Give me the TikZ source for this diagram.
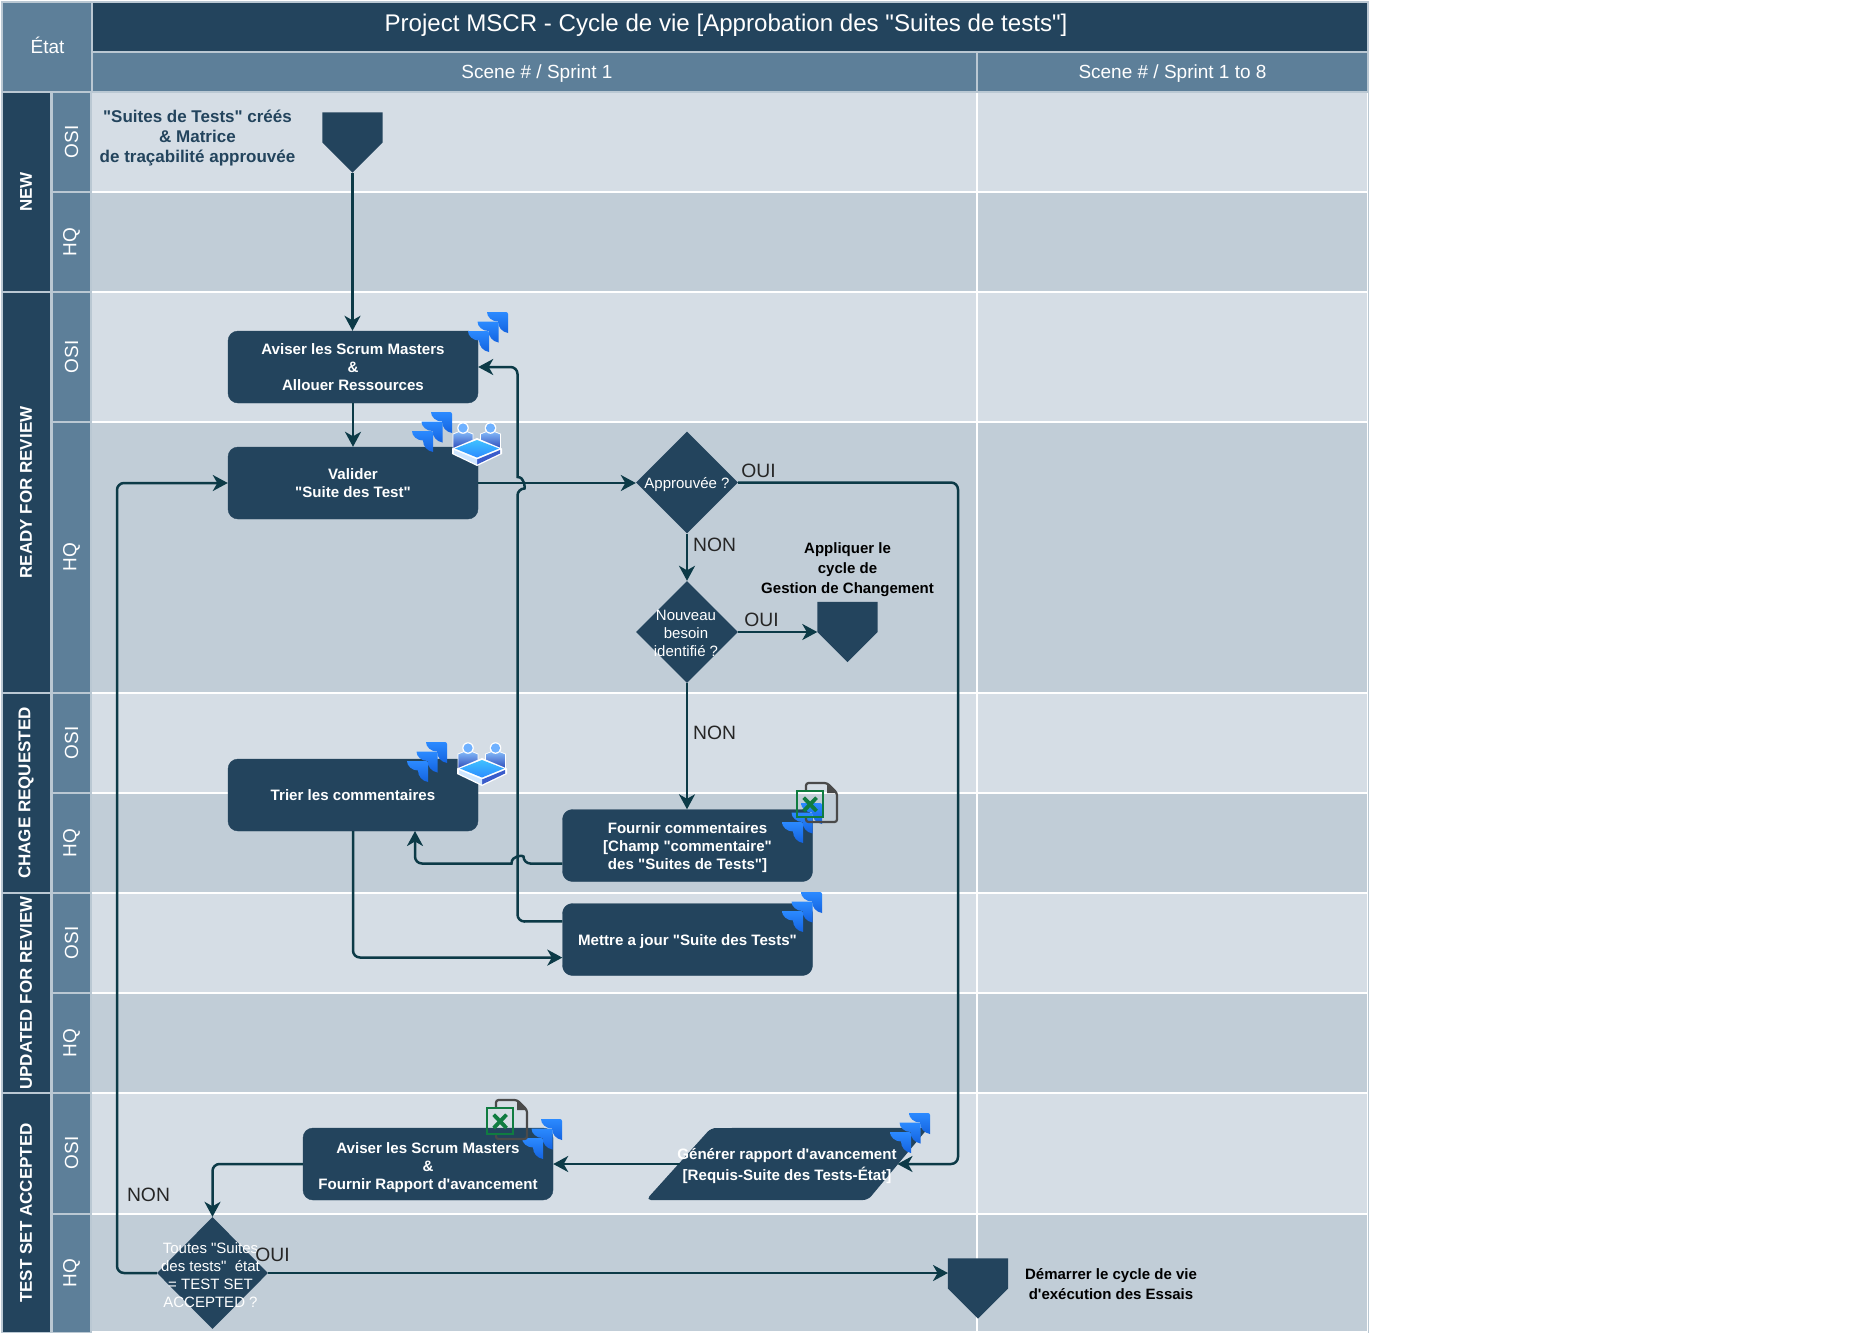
\documentclass[tikz,border=0pt]{standalone}
\usepackage{fontspec}
\setmainfont{Liberation Sans}[Ligatures=TeXOff]
\usetikzlibrary{shapes.geometric,arrows.meta,calc}
\definecolor{navy}{HTML}{23445D}
\definecolor{midblue}{HTML}{5D7F99}
\definecolor{edgeblue}{HTML}{BAC8D3}
\definecolor{rowA}{HTML}{D5DDE5}
\definecolor{rowB}{HTML}{C1CDD7}
\definecolor{wire}{HTML}{0C3A47}
\definecolor{jiraA}{HTML}{2B8AFF}
\definecolor{jiraB}{HTML}{1463E0}
\definecolor{xlgreen}{HTML}{107C41}
\definecolor{docgrey}{HTML}{4A4A4A}
\definecolor{cubeA}{HTML}{8CC4FF}
\definecolor{cubeB}{HTML}{2A48B8}
\definecolor{headblue}{HTML}{6FB1FF}
\definecolor{plateA}{HTML}{3FC0FF}
\definecolor{plateB}{HTML}{2C8CFF}
\definecolor{plateSide}{HTML}{3A5CCB}
\definecolor{plateLight}{HTML}{CFE6FF}
\newcommand{\fs}[1]{\fontsize{#1}{#1}\selectfont}
\tikzset{
  x=1pt,y=-1pt,
  rowcell/.style={draw=white,line width=2.4pt},
  hdrcell/.style={draw=edgeblue,line width=1.6pt},
  rolecell/.style={draw=edgeblue,line width=1.2pt,fill=midblue},
  hdrtext/.style={text=white,align=center,font=\fs{19}},
  statetext/.style={text=white,rotate=90,font=\bfseries\fs{17},align=center},
  roletext/.style={text=white,rotate=90,font=\fs{19}},
  procbox/.style={fill=navy,draw=navy,rounded corners=10pt,minimum width=250pt,minimum height=72pt,inner sep=0pt,
    text=white,align=center,font=\bfseries\fs{15.1}\setlength{\baselineskip}{18pt}},
  boxtext/.style={text=white,align=center,inner sep=0pt,font=\bfseries\fs{15.1}\setlength{\baselineskip}{18pt}},
  decide/.style={diamond,aspect=1,fill=navy,inner sep=0pt,minimum width=102pt,minimum height=102pt},
  decidetext/.style={text=white,align=center,font=\fs{15}\setlength{\baselineskip}{18pt}},
  ghost/.style={inner sep=0pt,minimum width=60pt,minimum height=60pt},
  wireline/.style={draw=wire,line width=2.5pt,rounded corners=7pt,-{Stealth[length=15pt,width=16pt,inset=4.5pt]}},
  flowlabel/.style={text=black!85,font=\fs{19.3}},
  notetext/.style={text=black,align=center,font=\bfseries\fs{15}\setlength{\baselineskip}{20pt}},
  pics/jira/.style={code={
    \foreach \dx/\dy in {0/0,-9.5/9.5,-19/19}{
      \shade[top color=jiraA,bottom color=jiraB,shift={(\dx,\dy)}]
        (0,0) -- (19,0) .. controls (20,0) and (21,1) .. (21,2) -- (21,21)
        .. controls (15,20) and (11,15) .. (11,9.5) .. controls (5,9.5) and (0,5) .. (0,0) -- cycle;
    }
  }},
  pics/excel/.style={code={
    \draw[docgrey,line width=2.2pt,rounded corners=2.5pt] (0,8) -- (0,0) -- (21,0) -- (31,10) -- (31,39) -- (0,39) -- (0,34);
    \fill[docgrey] (21,0) -- (31,10) -- (21,10) -- cycle;
    \draw[xlgreen,line width=2.4pt] (-9,8) rectangle (17,34);
    \draw[xlgreen,line width=3.8pt] (-2.3,14.7) -- (10.5,28) (10.5,14.7) -- (-2.3,28);
  }},
  pics/team/.style={code={
    \foreach \px in {1,28.5}{
      \shade[top color=cubeA,bottom color=cubeB,draw=white,line width=.8pt,shift={(\px,0)}]
        (0,-5) -- (10,-9) -- (20,-5) -- (20,10) -- (0,10) -- cycle;
      \fill[white,shift={(\px,0)}] (10,-11) circle[radius=5.8];
      \fill[headblue,shift={(\px,0)}] (10,-11) circle[radius=4.6];
    }
    \fill[white] (0,9.5) -- (25,-1) -- (50,9.5) -- (50,15) -- (25,27) -- (0,15) -- cycle;
    \fill[plateSide] (25,20.5) -- (48,11) -- (48,14.5) -- (25,25.5) -- cycle;
    \fill[plateLight] (25,20.5) -- (2,11) -- (2,14.5) -- (25,25.5) -- cycle;
    \shade[top color=plateA,bottom color=plateB] (3,9.5) -- (25,1) -- (47,9.5) -- (25,18.5) -- cycle;
  }},
}
\newcommand{\pentshape}[1]{\fill[navy] (#1.north west) -- (#1.north east) -- (#1.east) -- (#1.south) -- (#1.west) -- cycle;}
\begin{document}
\begin{tikzpicture}
\useasboundingbox (0,0) rectangle (1868,1334);
\fill[white] (0,0) rectangle (1868,1334);

% bands
\foreach \ya/\yb/\f in {92/192/rowA,192/292/rowB,292/422/rowA,422/693/rowB,693/793/rowA,793/893/rowB,893/993/rowA,993/1093/rowB,1093/1214/rowA,1214/1332.5/rowB}{
  \draw[rowcell,fill=\f] (91,\ya) rectangle (977,\yb);
  \draw[rowcell,fill=\f] (977,\ya) rectangle (1368,\yb);
}
\draw[edgeblue,line width=1pt] (1368,92) -- (1368,1332.5);

% header
\draw[hdrcell,fill=midblue] (2,2) rectangle (92,92);
\draw[hdrcell,fill=navy] (92,2) rectangle (1368,52);
\draw[hdrcell,fill=midblue] (92,52) rectangle (977,92);
\draw[hdrcell,fill=midblue] (977,52) rectangle (1368,92);
\node[hdrtext] (hEtat) at (47.5,45) {État};
\node[hdrtext,font=\fs{24.1}] (hTitle) at (726,25) {Project MSCR - Cycle de vie [Approbation des "Suites de tests"]};
\node[hdrtext] (hScA) at (537,74) {Scene \# / Sprint 1};
\node[hdrtext] (hScB) at (1172.5,74) {Scene \# / Sprint 1 to 8};

% state bands
\foreach \ya/\yb in {92/292,292/693,693/893,893/1093,1093/1332.5}{
  \draw[hdrcell,line width=1.2pt,fill=navy] (2,\ya) rectangle (51,\yb);
}
\node[statetext] (sNew) at (26,192) {NEW};
\node[statetext] (sReady) at (26,492.5) {READY FOR REVIEW};
\node[statetext] (sChange) at (26,793) {CHAGE REQUESTED};
\node[statetext] (sUpdated) at (26,993) {UPDATED FOR REVIEW};
\node[statetext] (sAccepted) at (26,1213) {TEST SET ACCEPTED};

% role cells
\foreach \ya/\yb in {92/192,192/292,292/422,422/693,693/793,793/893,893/993,993/1093,1093/1214,1214/1332.5}{
  \draw[rolecell] (52,\ya) rectangle (91,\yb);
}
\foreach \nm/\yy/\tx in {rA/142/OSI,rB/242/HQ,rC/357/OSI,rD/557/HQ,rE/743/OSI,rF/843/HQ,rG/943/OSI,rH/1043/HQ,rI/1153/OSI,rJ/1273/HQ}{
  \node[roletext] (\nm) at (71.5,\yy) {\tx};
}

% shapes
\node[ghost] (start) at (352.5,142.5) {};
\pentshape{start}
\node[ghost] (change) at (847.5,632) {};
\pentshape{change}
\node[ghost] (finish) at (978,1288.5) {};
\pentshape{finish}

\node[procbox] (aviserA) at (353,367) {Aviser les Scrum Masters\\\&\\Allouer Ressources};
\node[procbox] (valider) at (353,483) {Valider\\"Suite des Test"};
\node[procbox] (trier) at (353,795) {Trier les commentaires};
\node[procbox] (fournir) at (687.5,845.5) {};
\node[boxtext] (fournirT) at ($(fournir)+(0,2.5)$) {Fournir commentaires\\{}[Champ "commentaire"\\des "Suites de Tests"]};
\node[procbox] (mettre) at (687.5,939.5) {};
\node[boxtext] (mettreT) at ($(mettre)+(0,2.5)$) {Mettre a jour "Suite des Tests"};
\node[procbox] (aviserB) at (428,1164) {};
\node[boxtext] (aviserBT) at ($(aviserB)+(0,3.5)$) {Aviser les Scrum Masters\\\&\\Fournir Rapport d'avancement};

\node[decide] (approuve) at (687,482.5) {};
\node[decidetext] at ($(approuve.center)+(0,2)$) (approuveT) {Approuvée ?};
\node[decide] (nouveau) at (687,632) {};
\node[decidetext] at (686,633) (nouveauT) {Nouveau\\besoin\\identifié ?};
\node[decide,minimum width=111pt,minimum height=112pt] (toutes) at (212.5,1273) {};

% parallelogram
\node[inner sep=0pt,minimum width=279pt,minimum height=72pt] (generer) at (788.5,1164) {};
\fill[navy,rounded corners=5pt] (711,1128) -- (generer.north east) -- (868,1200) -- (646,1200) -- cycle;

% connector anchors
\coordinate (genE) at (897.5,1164);
\coordinate (genW) at (680,1164);
\coordinate (metA) at ($(mettre.north west)!.25!(mettre.south west)$);
\coordinate (metB) at ($(mettre.north west)!.75!(mettre.south west)$);
\coordinate (fouB) at ($(fournir.north west)!.75!(fournir.south west)$);
\coordinate (triB) at (415,831);
\coordinate (finW) at (948,1273);

% connectors
\draw[wireline] (start.south) -- (start.south |- aviserA.north);
\draw[wireline] (aviserA.south) -- (valider.north);
\draw[wireline] (valider.east) -- (approuve.west |- valider.east);
\draw[wireline] (metA) -- (517.5,921.5) -- (517.5,488.5) [sharp corners] .. controls (525,488.5) and (525,477) .. (517.5,477) [rounded corners=7pt] -- (517.5,367) -- (aviserA.east);
\draw[wireline] (fouB) -- (523.5,863.5) [sharp corners] .. controls (523.5,855) and (511.5,855) .. (511.5,863.5) [rounded corners=7pt] -- (415,863.5) -- (triB);
\draw[wireline] (trier.south) -- (353,957.5) -- (metB);
\draw[wireline] (approuve.south) -- (nouveau.north);
\draw[wireline] (approuve.east) -- (958,482.5) -- (958,1164) -- (genE);
\draw[wireline] (nouveau.east) -- (change.west);
\draw[wireline] (nouveau.south) -- (nouveau.south |- fournir.north);
\draw[wireline] (genW) -- (aviserB.east);
\draw[wireline] (aviserB.west) -- (212.5,1164) -- (toutes.north);
\draw[wireline] (toutes.east) -- (finW);
\draw[wireline] (toutes.west) -- (117,1273) -- (117,483) -- (valider.west);

% decision text on top
\node[decidetext] at (210.5,1275) (toutesT) {Toutes "Suites\\des tests"\ \ état\\= TEST SET\\ACCEPTED ?};
\node[boxtext,font=\bfseries\fs{15.1}\setlength{\baselineskip}{21pt}] (genT) at (787,1166) {Générer rapport d'avancement\\{}[Requis-Suite des Tests-État]};

% flow labels
\node[flowlabel] (l1) at (758.5,471) {OUI};
\node[flowlabel] (l2) at (714.5,545) {NON};
\node[flowlabel] (l3) at (761.5,620) {OUI};
\node[flowlabel] (l4) at (714.5,733) {NON};
\node[flowlabel] (l5) at (148.5,1195) {NON};
\node[flowlabel] (l6) at (272.5,1255) {OUI};

% notes
\node[notetext,text=navy,font=\bfseries\fs{17}\setlength{\baselineskip}{20pt}] (n1) at (197.5,138.5) {"Suites de Tests" créés\\\&\ Matrice\\de traçabilité approuvée};
\node[notetext] (n2) at (847.5,570) {Appliquer le\ \\cycle de\ \\Gestion de Changement};
\node[notetext] (n3) at (1111,1284.5) {Démarrer le cycle de vie\\d'exécution des Essais};

% icons
\pic at (487,312) {jira};
\pic at (431,412) {jira};
\pic at (452,439) {team};
\pic at (426,742) {jira};
\pic at (457,759) {team};
\pic at (801,803) {jira};
\pic at (806,783) {excel};
\pic at (801,892) {jira};
\pic at (541,1119) {jira};
\pic at (496,1100) {excel};
\pic at (909,1113) {jira};
\end{tikzpicture}
\end{document}
